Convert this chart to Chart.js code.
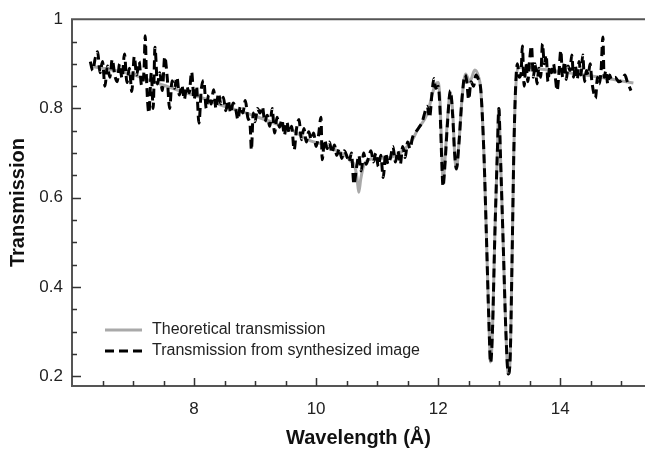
<!DOCTYPE html>
<html>
<head>
<meta charset="utf-8">
<script src="https://cdn.jsdelivr.net/npm/chart.js@4.4.1/dist/chart.umd.min.js"></script>
<style>
  html, body { margin: 0; padding: 0; background: #ffffff; }
  #wrap { width: 645px; height: 452px; }
</style>
</head>
<body>
<div id="wrap"><canvas id="c" width="645" height="452"></canvas></div>
<script>
// ---- Data ----
const xTickValues = [8, 10, 12, 14];
const yTickValues = [0.2, 0.4, 0.6, 0.8, 1.0];
const legendLabels = ['Theoretical transmission', 'Transmission from synthesized image'];
const axisTitles = { x: 'Wavelength (\u00C5)', y: 'Transmission' };

// Theoretical transmission: [wavelength, transmission]
const theoretical = [
  [6.3,0.895],[6.5,0.89],[6.7,0.885],[7.0,0.876],[7.2,0.866],[7.5,0.852],[7.8,0.838],
  [8.1,0.825],[8.5,0.805],[8.8,0.792],[9.0,0.783],[9.2,0.773],[9.4,0.763],[9.6,0.752],
  [9.9,0.728],[10.1,0.72],[10.35,0.705],[10.5,0.692],[10.56,0.683],[10.63,0.672],
  [10.67,0.645],[10.7,0.612],[10.73,0.64],[10.78,0.672],[10.85,0.684],[11.0,0.688],
  [11.2,0.69],[11.35,0.698],[11.5,0.716],[11.6,0.735],[11.66,0.752],[11.72,0.764],
  [11.78,0.776],[11.84,0.795],[11.9,0.83],[11.96,0.855],[12.0,0.858],[12.03,0.82],
  [12.06,0.70],[12.08,0.635],[12.11,0.68],[12.15,0.77],[12.2,0.834],[12.24,0.79],
  [12.27,0.70],[12.3,0.663],[12.34,0.72],[12.39,0.82],[12.45,0.877],[12.52,0.86],
  [12.6,0.886],[12.66,0.872],[12.70,0.84],[12.75,0.70],[12.79,0.52],[12.83,0.33],
  [12.86,0.232],[12.89,0.30],[12.93,0.52],[12.97,0.70],[12.995,0.80],[13.02,0.70],
  [13.07,0.48],[13.11,0.30],[13.15,0.205],[13.18,0.24],[13.21,0.45],[13.24,0.70],
  [13.27,0.84],[13.31,0.89],[13.4,0.893],[13.7,0.888],[14.0,0.883],[14.3,0.877],
  [14.6,0.871],[14.9,0.864],[15.2,0.857]
];

// Transmission from synthesized image: [wavelength, transmission]
const synthesized = [
  [6.30,0.905],[6.34,0.885],[6.38,0.912],[6.42,0.927],[6.46,0.880],[6.50,0.905],[6.54,0.850],
  [6.58,0.895],[6.62,0.870],[6.66,0.910],[6.70,0.875],[6.74,0.860],[6.78,0.900],[6.82,0.868],
  [6.86,0.922],[6.90,0.858],[6.94,0.890],[6.98,0.838],[7.02,0.916],[7.06,0.875],[7.10,0.905],
  [7.14,0.852],[7.18,0.885],[7.20,0.963],[7.22,0.870],[7.26,0.790],[7.30,0.880],[7.33,0.800],
  [7.36,0.937],[7.40,0.855],[7.44,0.880],[7.48,0.840],[7.52,0.916],[7.56,0.870],[7.60,0.800],
  [7.64,0.862],[7.68,0.845],[7.72,0.870],[7.76,0.830],[7.80,0.852],[7.84,0.820],[7.88,0.850],
  [7.92,0.835],[7.96,0.882],[8.00,0.820],[8.04,0.850],[8.08,0.767],[8.12,0.845],[8.16,0.863],
  [8.20,0.800],[8.24,0.830],[8.28,0.810],[8.32,0.842],[8.36,0.800],[8.40,0.834],[8.44,0.810],
  [8.48,0.825],[8.52,0.795],[8.56,0.818],[8.60,0.790],[8.64,0.812],[8.68,0.800],[8.72,0.775],
  [8.76,0.805],[8.80,0.790],[8.84,0.818],[8.88,0.780],[8.92,0.760],[8.94,0.707],[8.97,0.790],
  [9.00,0.770],[9.04,0.800],[9.08,0.790],[9.12,0.804],[9.16,0.770],[9.20,0.785],[9.24,0.760],
  [9.28,0.800],[9.32,0.745],[9.36,0.780],[9.40,0.758],[9.44,0.775],[9.48,0.740],[9.52,0.770],
  [9.56,0.745],[9.60,0.760],[9.64,0.707],[9.68,0.755],[9.72,0.775],[9.76,0.730],[9.80,0.755],
  [9.84,0.725],[9.88,0.748],[9.92,0.730],[9.96,0.745],[10.00,0.715],[10.04,0.740],[10.08,0.780],
  [10.10,0.685],[10.14,0.730],[10.18,0.710],[10.22,0.725],[10.26,0.700],[10.30,0.718],
  [10.34,0.695],[10.38,0.710],[10.42,0.688],[10.46,0.705],[10.50,0.695],[10.54,0.680],
  [10.58,0.700],[10.62,0.630],[10.66,0.665],[10.70,0.695],[10.74,0.660],[10.78,0.700],
  [10.82,0.675],[10.86,0.690],[10.90,0.705],[10.94,0.680],[10.98,0.700],[11.02,0.670],
  [11.06,0.695],[11.10,0.645],[11.14,0.700],[11.18,0.675],[11.22,0.690],[11.26,0.715],
  [11.30,0.680],[11.34,0.705],[11.38,0.675],[11.42,0.715],[11.46,0.690],[11.50,0.725],
  [11.54,0.710],[11.58,0.735],[11.62,0.745],[11.66,0.752],[11.70,0.760],[11.74,0.770],
  [11.78,0.790],[11.82,0.805],[11.86,0.780],[11.90,0.835],[11.93,0.867],[11.96,0.845],
  [12.00,0.850],[12.03,0.800],[12.06,0.680],[12.08,0.625],[12.11,0.670],[12.15,0.760],
  [12.20,0.840],[12.24,0.780],[12.27,0.700],[12.30,0.665],[12.34,0.720],[12.39,0.820],
  [12.44,0.875],[12.47,0.860],[12.50,0.820],[12.54,0.860],[12.58,0.850],[12.62,0.875],
  [12.66,0.865],[12.70,0.840],[12.75,0.700],[12.79,0.520],[12.83,0.330],[12.86,0.230],
  [12.89,0.300],[12.93,0.520],[12.97,0.700],[12.995,0.800],[13.02,0.700],[13.07,0.480],
  [13.11,0.300],[13.15,0.205],[13.18,0.240],[13.21,0.450],[13.24,0.700],[13.27,0.850],
  [13.30,0.900],[13.33,0.870],[13.36,0.880],[13.38,0.940],[13.41,0.850],[13.44,0.900],
  [13.47,0.860],[13.50,0.910],[13.53,0.940],[13.56,0.870],[13.59,0.900],[13.62,0.855],
  [13.65,0.890],[13.68,0.870],[13.71,0.945],[13.74,0.900],[13.77,0.920],[13.80,0.860],
  [13.83,0.895],[13.86,0.880],[13.89,0.900],[13.92,0.870],[13.95,0.840],[13.98,0.880],
  [14.01,0.930],[14.04,0.870],[14.07,0.905],[14.10,0.865],[14.13,0.895],[14.16,0.885],
  [14.19,0.920],[14.22,0.870],[14.25,0.895],[14.28,0.865],[14.31,0.905],[14.34,0.875],
  [14.37,0.920],[14.40,0.860],[14.43,0.885],[14.46,0.875],[14.49,0.900],[14.52,0.860],
  [14.55,0.835],[14.58,0.823],[14.61,0.870],[14.64,0.855],[14.67,0.885],[14.70,0.960],
  [14.72,0.870],[14.75,0.885],[14.78,0.855],[14.81,0.875],[14.84,0.865],[14.90,0.870],
  [14.96,0.860],[15.02,0.865],[15.06,0.875],[15.10,0.860],[15.13,0.850],[15.16,0.840]
];

const FONT = "'Liberation Sans', Arial, Helvetica, sans-serif";
const AXIS_COLOR = '#555555';
const GRAY = '#a9a9a9';

// Frame, inward tick marks and the in-plot legend
const framePlugin = {
  id: 'framePlugin',
  afterDatasetsDraw(chart) {
    const ctx = chart.ctx;
    const a = chart.chartArea;
    const xs = chart.scales.x, ys = chart.scales.y;
    ctx.save();
    ctx.strokeStyle = AXIS_COLOR;
    ctx.lineWidth = 2;
    ctx.beginPath();
    ctx.moveTo(a.left, a.top); ctx.lineTo(a.right, a.top);
    ctx.moveTo(a.left, a.top - 1); ctx.lineTo(a.left, a.bottom);
    ctx.moveTo(a.left - 1, a.bottom); ctx.lineTo(a.right, a.bottom);
    ctx.stroke();
    ctx.lineWidth = 1.5;
    ctx.strokeStyle = '#333333';
    ctx.beginPath();
    for (let k = 13; k <= 30; k++) {
      const v = k / 2;
      if (v <= xs.min || v >= xs.max) continue;
      const px = Math.round(xs.getPixelForValue(v)) + 0.5;
      const len = (v % 2 === 0) ? 8 : 5;
      ctx.moveTo(px, a.bottom); ctx.lineTo(px, a.bottom - len);
    }
    for (let k = 4; k <= 19; k++) {
      const v = k / 20;
      if (v <= ys.min || v >= ys.max) continue;
      const py = Math.round(ys.getPixelForValue(v)) + 0.5;
      const len = (k % 4 === 0) ? 9 : 5;
      ctx.moveTo(a.left, py); ctx.lineTo(a.left + len, py);
    }
    ctx.stroke();

    // legend
    const lx0 = 105, lx1 = 142, ly1 = 330, ly2 = 351, tx = 152;
    ctx.lineWidth = 3;
    ctx.strokeStyle = GRAY;
    ctx.setLineDash([]);
    ctx.beginPath(); ctx.moveTo(lx0, ly1); ctx.lineTo(lx1, ly1); ctx.stroke();
    ctx.strokeStyle = '#000000';
    ctx.setLineDash([9, 5]);
    ctx.beginPath(); ctx.moveTo(lx0, ly2); ctx.lineTo(lx1 + 1, ly2); ctx.stroke();
    ctx.setLineDash([]);
    ctx.fillStyle = '#222222';
    ctx.font = '16px ' + FONT;
    ctx.textBaseline = 'middle';
    ctx.textAlign = 'left';
    ctx.fillText(legendLabels[0], tx, ly1);
    ctx.fillText(legendLabels[1], tx, ly2);
    ctx.restore();
  }
};

new Chart(document.getElementById('c'), {
  type: 'line',
  data: {
    datasets: [
      {
        label: legendLabels[0],
        data: theoretical.map(p => ({ x: p[0], y: p[1] })),
        borderColor: GRAY,
        borderWidth: 3,
        pointRadius: 0,
        cubicInterpolationMode: 'monotone',
        fill: false,
        order: 2
      },
      {
        label: legendLabels[1],
        data: synthesized.map(p => ({ x: p[0], y: p[1] })),
        borderColor: '#000000',
        borderWidth: 3,
        borderDash: [9, 5],
        pointRadius: 0,
        cubicInterpolationMode: 'monotone',
        fill: false,
        order: 1
      }
    ]
  },
  options: {
    responsive: false,
    animation: false,
    devicePixelRatio: 1,
    layout: { padding: { left: 0, right: 0, top: 15, bottom: 0 } },
    plugins: { legend: { display: false }, tooltip: { enabled: false } },
    scales: {
      x: {
        type: 'linear',
        min: 6.0,
        max: 15.39,
        afterBuildTicks: s => { s.ticks = xTickValues.map(v => ({ value: v })); },
        afterFit: s => { s.height = 66; },
        grid: { display: false, drawTicks: false },
        border: { display: false },
        ticks: {
          padding: 13,
          color: '#222222',
          font: { family: FONT, size: 17 },
          callback: v => String(v),
          maxRotation: 0
        },
        title: {
          display: true,
          text: axisTitles.x,
          color: '#111111',
          font: { family: FONT, size: 20, weight: 'bold' },
          padding: { top: 0, bottom: 2 }
        }
      },
      y: {
        type: 'linear',
        min: 0.178,
        max: 1.0,
        afterBuildTicks: s => { s.ticks = yTickValues.map(v => ({ value: v })); },
        afterFit: s => { s.width = 72; },
        grid: { display: false, drawTicks: false },
        border: { display: false },
        ticks: {
          padding: 9,
          color: '#222222',
          font: { family: FONT, size: 17 },
          callback: v => (Math.abs(v - 1) < 1e-9 ? '1' : Number(v).toFixed(1))
        },
        title: {
          display: true,
          text: axisTitles.y,
          color: '#111111',
          font: { family: FONT, size: 20, weight: 'bold' },
          padding: { top: 6, bottom: 0 }
        }
      }
    }
  },
  plugins: [framePlugin]
});
</script>
</body>
</html>
